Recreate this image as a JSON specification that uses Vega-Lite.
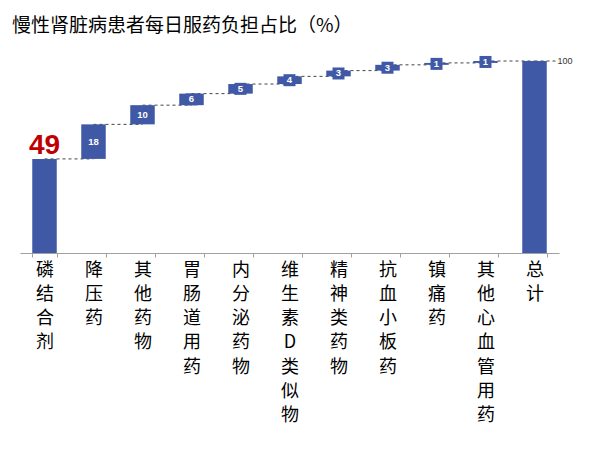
{
  "$schema": "https://vega.github.io/schema/vega-lite/v6.json",
  "width": 539,
  "height": 192,
  "autosize": {"type": "none"},
  "padding": {"left": 20, "top": 61, "right": 54, "bottom": 201},
  "background": "white",
  "title": {
    "text": "慢性肾脏病患者每日服药负担占比（%）",
    "anchor": "start",
    "font": "Noto Sans CJK SC",
    "fontSize": 19,
    "fontWeight": "normal",
    "color": "#000000",
    "offset": 20,
    "dx": -8
  },
  "config": {"view": {"stroke": null}, "font": "Noto Sans CJK SC"},
  "data": {
    "values": [
      {"cat": "磷结合剂", "start": 0, "end": 49, "value": 49},
      {"cat": "降压药", "start": 49, "end": 67, "value": 18},
      {"cat": "其他药物", "start": 67, "end": 77, "value": 10},
      {"cat": "胃肠道用药", "start": 77, "end": 83, "value": 6},
      {"cat": "内分泌药物", "start": 83, "end": 88, "value": 5},
      {"cat": "维生素D类似物", "start": 88, "end": 92, "value": 4},
      {"cat": "精神类药物", "start": 92, "end": 95, "value": 3},
      {"cat": "抗血小板药", "start": 95, "end": 98, "value": 3},
      {"cat": "镇痛药", "start": 98, "end": 99, "value": 1},
      {"cat": "其他心血管用药", "start": 99, "end": 100, "value": 1},
      {"cat": "总计", "start": 0, "end": 100, "value": 100}
    ]
  },
  "transform": [
    {"window": [{"op": "lead", "field": "cat", "as": "next"}]},
    {"calculate": "(datum.start + datum.end) / 2", "as": "mid"}
  ],
  "encoding": {
    "x": {
      "field": "cat",
      "type": "nominal",
      "sort": null,
      "scale": {"paddingInner": 0.5, "paddingOuter": 0.25},
      "axis": {
        "title": null,
        "tickBand": "extent",
        "domainColor": "#a0a0a0",
        "tickColor": "#a0a0a0",
        "tickSize": 4,
        "labelAngle": 0,
        "labelFont": "Noto Sans CJK SC",
        "labelFontSize": 18,
        "labelColor": "#000000",
        "labelLineHeight": 24.3,
        "labelPadding": 4,
        "labelBaseline": "top",
        "labelExpr": "split(datum.label, '')"
      }
    }
  },
  "layer": [
    {
      "transform": [{"filter": "datum.next != null"}],
      "mark": {"type": "rule", "strokeDash": [3, 3], "color": "#444444", "strokeWidth": 1},
      "encoding": {
        "x2": {"field": "next"},
        "y": {"field": "end", "type": "quantitative", "scale": {"domain": [0, 100]}, "axis": null}
      }
    },
    {
      "transform": [{"filter": "datum.cat == '总计'"}],
      "mark": {"type": "rule", "strokeDash": [3, 3], "color": "#444444", "strokeWidth": 1, "x2Offset": 21},
      "encoding": {
        "x2": {"field": "cat"},
        "y": {"field": "end", "type": "quantitative"}
      }
    },
    {
      "mark": {"type": "bar", "color": "#4059a6"},
      "encoding": {
        "y": {"field": "start", "type": "quantitative"},
        "y2": {"field": "end"}
      }
    },
    {
      "transform": [{"filter": "datum.value < 8"}],
      "mark": {"type": "tick", "color": "#4059a6", "opacity": 1, "size": 12, "thickness": 12},
      "encoding": {
        "y": {"field": "mid", "type": "quantitative"}
      }
    },
    {
      "transform": [{"filter": "datum.cat != '磷结合剂' && datum.cat != '总计'"}],
      "mark": {"type": "text", "color": "white", "fontSize": 9.5, "fontWeight": "bold", "font": "Liberation Sans", "baseline": "middle"},
      "encoding": {
        "y": {"field": "mid", "type": "quantitative"},
        "text": {"field": "value"}
      }
    },
    {
      "transform": [{"filter": "datum.cat == '磷结合剂'"}],
      "mark": {"type": "text", "color": "#c00000", "fontSize": 28, "fontWeight": "bold", "font": "Liberation Sans", "baseline": "alphabetic", "dy": -5},
      "encoding": {
        "y": {"field": "end", "type": "quantitative"},
        "text": {"field": "value"}
      }
    },
    {
      "transform": [{"filter": "datum.cat == '总计'"}],
      "mark": {"type": "text", "color": "#333333", "fontSize": 9, "font": "Liberation Sans", "align": "left", "baseline": "middle", "dx": 23},
      "encoding": {
        "y": {"field": "end", "type": "quantitative"},
        "text": {"field": "value"}
      }
    }
  ]
}
